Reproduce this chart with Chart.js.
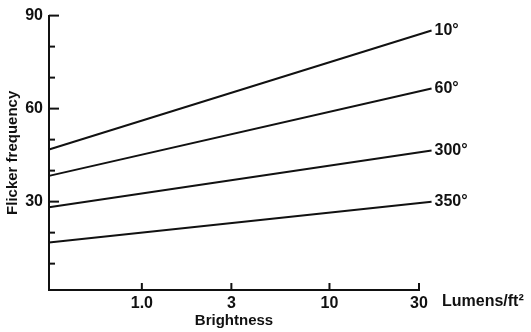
<!DOCTYPE html>
<html>
<head>
<meta charset="utf-8">
<script src="https://cdn.jsdelivr.net/npm/chart.js@4.4.1/dist/chart.umd.min.js"></script>
<style>
  html, body { margin: 0; padding: 0; background: #fff; }
  #wrap { width: 531px; height: 332px; }
</style>
</head>
<body>
<div id="wrap"><canvas id="flicker"></canvas></div>
<script>
/* ------------------
    Data
-------------------*/
var brightness = [0.32, 35];            // lumens/ft2, line ends
var flicker10 = [46.8, 85.2];
var flicker60 = [38.3, 66.5];
var flicker300 = [28.2, 46.5];
var flicker350 = [16.8, 30.0];
var seriesNames = ['10°', '60°', '300°', '350°'];
var xTicks = [1, 3, 10, 30];
var yTicks = [10, 20, 30, 40, 50, 60, 70, 80, 90];
var yLabeled = [30, 60, 90];

var FONT = "'Liberation Sans', Arial, sans-serif";

function pts(ys) {
  return ys.map(function (y, i) { return { x: brightness[i], y: y }; });
}

function lineSet(name, ys) {
  return {
    label: name,
    data: pts(ys),
    borderColor: '#111',
    borderWidth: 2,
    pointRadius: 0,
    tension: 0,
    clip: false
  };
}

// ticks drawn inside the axes, plus curve labels and unit text
var extras = {
  id: 'extras',
  afterDraw: function (chart) {
    var ctx = chart.ctx;
    var xs = chart.scales.x, ys = chart.scales.y;
    var area = chart.chartArea;
    ctx.save();
    ctx.strokeStyle = '#111';
    ctx.lineWidth = 2;
    yTicks.forEach(function (v) {
      var py = ys.getPixelForValue(v);
      var len = yLabeled.indexOf(v) >= 0 ? 10 : 6;
      ctx.beginPath();
      ctx.moveTo(area.left, py);
      ctx.lineTo(area.left + len, py);
      ctx.stroke();
    });
    xTicks.forEach(function (v) {
      var px = xs.getPixelForValue(v);
      ctx.beginPath();
      ctx.moveTo(px, area.bottom);
      ctx.lineTo(px, area.bottom - 7);
      ctx.stroke();
    });

    ctx.fillStyle = '#111';
    ctx.font = 'bold 16px ' + FONT;
    ctx.textBaseline = 'middle';
    ctx.textAlign = 'left';
    chart.data.datasets.forEach(function (ds, i) {
      var last = chart.getDatasetMeta(i).data[ds.data.length - 1];
      ctx.fillText(ds.label, last.x + 3, last.y);
    });
    ctx.fillText('Lumens/ft²', 442, 302);
    ctx.restore();
  }
};

var chart = new Chart(document.getElementById('flicker'), {
  type: 'line',
  data: {
    datasets: [
      lineSet(seriesNames[0], flicker10),
      lineSet(seriesNames[1], flicker60),
      lineSet(seriesNames[2], flicker300),
      lineSet(seriesNames[3], flicker350)
    ]
  },
  options: {
    responsive: true,
    maintainAspectRatio: false,
    animation: false,
    layout: { padding: { top: 14, right: 112, left: 0, bottom: 0 } },
    plugins: {
      legend: { display: false },
      tooltip: { enabled: false }
    },
    scales: {
      x: {
        type: 'logarithmic',
        bounds: 'data',
        min: 0.32,
        max: 30,
        afterBuildTicks: function (s) {
          s.ticks = xTicks.map(function (v) { return { value: v }; });
        },
        afterFit: function (s) { s.height = 42; },
        grid: { display: false, drawTicks: false },
        border: { display: true, color: '#111', width: 2 },
        ticks: {
          padding: 4,
          color: '#111',
          font: { family: FONT, size: 16, weight: 'bold' },
          maxRotation: 0,
          autoSkip: false,
          callback: function (v) { return v === 1 ? '1.0' : String(v); }
        },
        title: {
          display: true,
          text: 'Brightness',
          color: '#111',
          font: { family: FONT, size: 15, weight: 'bold' },
          padding: { top: 0, bottom: 2 }
        }
      },
      y: {
        min: 1.5,
        max: 90,
        afterBuildTicks: function (s) {
          s.ticks = yTicks.map(function (v) { return { value: v }; });
        },
        afterFit: function (s) { s.width = 49; },
        grid: { display: false, drawTicks: false },
        border: { display: true, color: '#111', width: 2 },
        ticks: {
          padding: 6,
          color: '#111',
          font: { family: FONT, size: 16, weight: 'bold' },
          autoSkip: false,
          callback: function (v) { return yLabeled.indexOf(v) >= 0 ? String(v) : ''; }
        },
        title: {
          display: true,
          text: 'Flicker frequency',
          color: '#111',
          font: { family: FONT, size: 15, weight: 'bold' },
          padding: { top: 4, bottom: 0 }
        }
      }
    }
  },
  plugins: [extras]
});
</script>
</body>
</html>
